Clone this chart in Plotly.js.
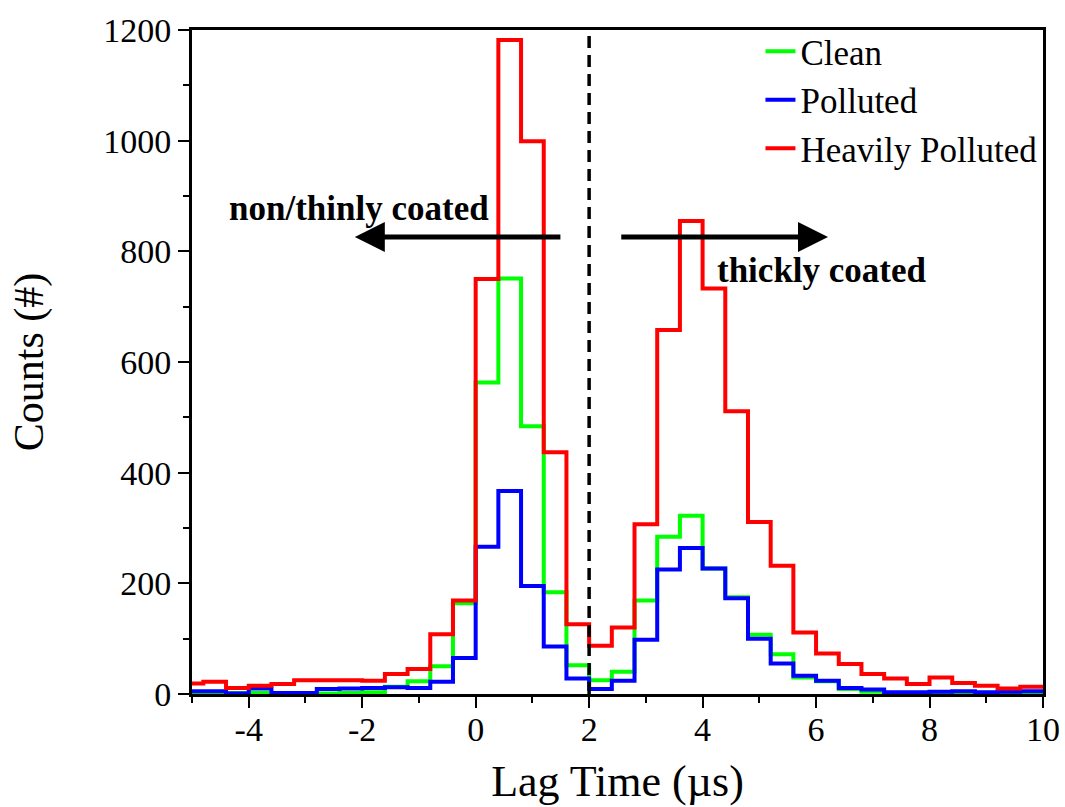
<!DOCTYPE html>
<html>
<head>
<meta charset="utf-8">
<script src="https://cdn.plot.ly/plotly-3.0.1.min.js"></script>
<style>html,body{margin:0;padding:0;background:#fff;}#chart{width:1065px;height:807px;}</style>
</head>
<body>
<div id="chart"></div>
<script>
// Left edges of the 0.4 µs lag-time bins
const binLeftEdges = [-5.2,-4.8,-4.4,-4.0,-3.6,-3.2,-2.8,-2.4,-2.0,-1.6,-1.2,-0.8,-0.4,
  0.0,0.4,0.8,1.2,1.6,2.0,2.4,2.8,3.2,3.6,4.0,4.4,4.8,5.2,5.6,6.0,6.4,6.8,7.2,7.6,8.0,8.4,8.8,9.2,9.6];
const lastBinRightEdge = 10.0;

const cleanCounts = [1,1,2,2,1,1,1,2,3,13,23,50,164,
  563,751,484,184,52,25,40,169,284,322,227,175,107,72,30,23,9,4,2,1,2,2,1,1,2];
const pollutedCounts = [5,5,1,10,2,2,9,10,11,12,11,22,65,
  266,367,195,86,28,9,24,98,225,264,227,173,100,55,33,24,11,8,3,3,4,5,3,4,5];
const heavilyPollutedCounts = [19,22,11,15,18,25,25,25,24,36,45,108,169,
  750,1182,999,437,126,87,120,307,658,855,733,511,311,232,111,73,54,36,28,18,30,20,15,10,13];

const seriesNames = ["Clean", "Polluted", "Heavily Polluted"];
const seriesColors = ["#00ff00", "#0000ff", "#ff0000"];
const seriesValues = [cleanCounts, pollutedCounts, heavilyPollutedCounts];

const xTickValues = [-4,-2,0,2,4,6,8,10];
const yTickValues = [0,200,400,600,800,1000,1200];
const dividerLag = 2;

const FONT = "Liberation Serif, Times New Roman, serif";

const stepX = binLeftEdges.concat([lastBinRightEdge]);
const traces = seriesValues.map((vals, i) => ({
  type: "scatter",
  mode: "lines",
  name: seriesNames[i],
  x: stepX,
  y: vals.concat([vals[vals.length - 1]]),
  line: {shape: "hv", color: seriesColors[i], width: 4},
  hoverinfo: "x+y+name"
}));

const layout = {
  width: 1065,
  height: 807,
  margin: {l: 192, r: 22, t: 30, b: 113},
  paper_bgcolor: "#fff",
  plot_bgcolor: "#fff",
  font: {family: FONT, color: "#000"},
  showlegend: true,
  legend: {
    x: 0.668, y: 1.012, xanchor: "left", yanchor: "top",
    bgcolor: "rgba(0,0,0,0)",
    font: {family: FONT, size: 35, color: "#000"},
    tracegroupgap: 0
  },
  xaxis: {
    range: [-5, 10],
    tickvals: xTickValues,
    ticktext: xTickValues.map(String),
    ticks: "outside", ticklen: 11, tickwidth: 2, tickcolor: "#000",
    ticklabelstandoff: -8,
    minor: {dtick: 1, tick0: 0, ticks: "outside", ticklen: 6, tickwidth: 2, tickcolor: "#000"},
    showline: true, linewidth: 3, linecolor: "#000", mirror: true,
    showgrid: false, zeroline: false,
    tickfont: {family: FONT, size: 34, color: "#000"},
    title: {text: "Lag Time (µs)", font: {family: FONT, size: 44, color: "#000"}, standoff: 19}
  },
  yaxis: {
    range: [0, 1200],
    tickvals: yTickValues,
    ticktext: yTickValues.map(String),
    ticks: "outside", ticklen: 11, tickwidth: 2, tickcolor: "#000",
    minor: {dtick: 100, tick0: 0, ticks: "outside", ticklen: 6, tickwidth: 2, tickcolor: "#000"},
    showline: true, linewidth: 3, linecolor: "#000", mirror: true,
    showgrid: false, zeroline: false,
    tickfont: {family: FONT, size: 34, color: "#000"},
    title: {text: "Counts (#)", font: {family: FONT, size: 42, color: "#000"}, standoff: 47}
  },
  shapes: [{
    type: "line", xref: "x", yref: "y",
    x0: dividerLag, x1: dividerLag, y0: 0, y1: 1200,
    line: {color: "#000", width: 3.5, dash: "12px,7px"}
  }],
  annotations: [
    {xref: "x", yref: "y", x: -2.13, y: 826, ax: 1.52, ay: 826, axref: "x", ayref: "y",
     text: "", showarrow: true, arrowhead: 2, arrowsize: 1.2, arrowwidth: 5, arrowcolor: "#000"},
    {xref: "x", yref: "y", x: 6.21, y: 826, ax: 2.54, ay: 826, axref: "x", ayref: "y",
     text: "", showarrow: true, arrowhead: 2, arrowsize: 1.2, arrowwidth: 5, arrowcolor: "#000"},
    {xref: "x", yref: "y", x: -2.06, y: 877, text: "<b>non/thinly coated</b>", showarrow: false,
     font: {family: FONT, size: 35, color: "#000"}},
    {xref: "x", yref: "y", x: 6.1, y: 766, text: "<b>thickly coated</b>", showarrow: false,
     font: {family: FONT, size: 35, color: "#000"}}
  ]
};

Plotly.newPlot("chart", traces, layout, {displayModeBar: false, staticPlot: true});
</script>
</body>
</html>
